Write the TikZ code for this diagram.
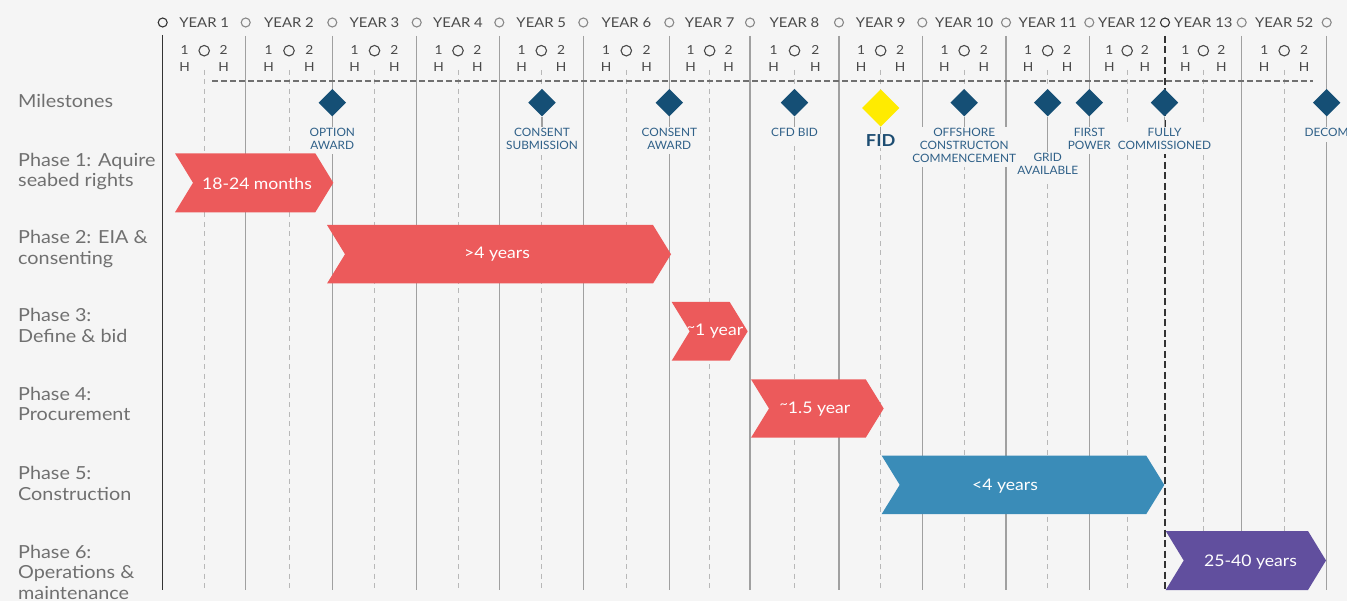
\documentclass[tikz,border=0pt]{standalone}
\usepackage{fontspec}
\setmainfont{Lato}[FakeStretch=1.1]
\newfontfamily\msfont{Lato}[FakeStretch=1.03]
\usetikzlibrary{shapes.geometric}
\definecolor{bg}{HTML}{F5F5F5}
\definecolor{chred}{HTML}{EC5A5B}
\definecolor{chblue}{HTML}{3A8CB8}
\definecolor{chpurple}{HTML}{614F9E}
\definecolor{navy}{HTML}{154F75}
\definecolor{mstext}{HTML}{2F6088}
\definecolor{fidtext}{HTML}{1D4D72}
\definecolor{fidyellow}{HTML}{FFEB00}
\definecolor{phasetext}{HTML}{707070}
\definecolor{yeartext}{HTML}{4A4A4A}
\definecolor{gridsolid}{HTML}{A0A0A0}
\definecolor{gridlight}{HTML}{B8B8B8}
\definecolor{hdash}{HTML}{707070}
\newcommand\chev[6]{% left, tip, top, bottom, colour, name
  \fill[#5] (#1,#3) -- (#2-18,#3) -- (#2,{(#3+#4)/2}) -- (#2-18,#4) -- (#1,#4) -- (#1+18,{(#3+#4)/2}) -- cycle;}
\newcommand\uptilde{\raisebox{0.3em}{\fontsize{13}{13}\selectfont\textasciitilde}}
\begin{document}
\begin{tikzpicture}[x=1pt,y=-1pt,
  yearlab/.style={font=\fontsize{13.5}{16}\selectfont, text=yeartext, anchor=base, inner sep=0pt},
  halfnum/.style={font=\fontsize{12.5}{14}\selectfont, text=yeartext, anchor=base, inner sep=0pt},
  ycirc/.style={circle, draw=#1, line width=1.1pt, minimum size=9pt, inner sep=0pt},
  hcirc/.style={circle, draw=yeartext, line width=1.1pt, minimum size=10.5pt, inner sep=0pt},
  halfline/.style={gridlight, line width=1pt, dash pattern=on 5pt off 4.5pt},
  yearline/.style={gridsolid, line width=1.1pt},
  axisline/.style={black!80, line width=1.3pt},
  keyline/.style={black!80, line width=1.2pt, dash pattern=on 7pt off 3.5pt},
  hline/.style={hdash, line width=1.3pt, dash pattern=on 6pt off 3pt},
  ms/.style={diamond, fill=navy, minimum width=27.6pt, minimum height=27.6pt, inner sep=0pt},
  fidms/.style={diamond, fill=fidyellow, minimum width=37.4pt, minimum height=37.4pt, inner sep=0pt},
  mslab/.style={font=\msfont\fontsize{11.5}{12.7}\selectfont, text=mstext, align=center, fill=bg, inner sep=1pt, anchor=north},
  msline/.style={gridsolid, line width=1.1pt},
  phaselab/.style={font=\fontsize{18}{20.5}\selectfont, text=phasetext, align=left, anchor=north west, inner sep=0pt},
  chlab/.style={font=\fontsize{16}{19}\selectfont, text=white, inner sep=0pt}]
\useasboundingbox (0,0) rectangle (1347,601);
\clip (0,0) rectangle (1347,601);
\fill[bg] (0,0) rectangle (1347,601);

% grid
\foreach \m in {204.2,289,374.5,458,541.3,626.3,709.65,794.5,880.65,964.15,1047.65,1127.15,1203.35,1284.2}
  \draw[halfline] (\m,70) -- (\m,590);
\foreach \b in {245.7,332.3,416.7,499.3,583.3,669.3,750,839,922.3,1006,1089.3,1241.7,1326.7}
  \draw[yearline] (\b,36) -- (\b,590);
\draw[axisline] (162.7,35) -- (162.7,590);
\draw[keyline] (1165,36) -- (1165,590);
\coordinate (hl) at (212,81);
\coordinate (hr) at (1313,81);
\draw[hline] (hl) -- (hr);

% header
\foreach \l/\r/\t [count=\i] in {162.7/245.7/YEAR 1,245.7/332.3/YEAR 2,332.3/416.7/YEAR 3,416.7/499.3/YEAR 4,499.3/583.3/YEAR 5,583.3/669.3/YEAR 6,669.3/750/YEAR 7,750/839/YEAR 8,839/922.3/YEAR 9,922.3/1006/YEAR 10,1006/1089.3/YEAR 11,1089.3/1165/YEAR 12,1165/1241.7/YEAR 13,1241.7/1326.7/YEAR 52} {
  \pgfmathsetmacro\m{(\l+\r)/2}
  \pgfmathsetmacro\o{0.235*(\r-\l)}
  \node[yearlab] (yl\i) at (\m,27.3) {\t};
  \node[halfnum] (one\i) at (\m-\o,55) {1};
  \node[halfnum] (two\i) at (\m+\o,55) {2};
  \node[halfnum] (ha\i) at (\m-\o,71.7) {H};
  \node[halfnum] (hb\i) at (\m+\o,71.7) {H};
  \node[hcirc] (hc\i) at (\m,50.7) {};
}
\foreach \b [count=\i] in {245.7,332.3,416.7,499.3,583.3,669.3,750,839,922.3,1006,1089.3,1241.7,1326.7}
  \node[ycirc=gridsolid!85!black] (yc\i) at (\b,22.5) {};
\node[ycirc=black!80] (yc0) at (162.7,22.5) {};
\node[ycirc=black!80] (ycx) at (1165,22.5) {};

% phase labels
\node[phaselab] (lm) at (18,92.6) {\strut Milestones};
\node[phaselab] (l1) at (18,151.6) {\strut Phase 1: Aquire\\\strut seabed rights};
\node[phaselab] (l2) at (18,229) {\strut Phase 2: EIA \&\\\strut consenting};
\node[phaselab] (l3) at (18,307.1) {\strut Phase 3:\\\strut Define \& bid};
\node[phaselab] (l4) at (18,385.6) {\strut Phase 4:\\\strut Procurement};
\node[phaselab] (l5) at (18,465.3) {\strut Phase 5:\\\strut Construction};
\node[phaselab] (l6) at (18,543.9) {\strut Phase 6:\\\strut Operations \&\\\strut maintenance};

% milestone labels
\node[mslab] (t7) at (1047.7,151.6) {\strut GRID\\\strut AVAILABLE};
\node[mslab] (t1) at (332.3,126.8) {\strut OPTION\\\strut AWARD};
\node[mslab] (t2) at (542,126.8) {\strut CONSENT\\\strut SUBMISSION};
\node[mslab] (t3) at (669.3,126.8) {\strut CONSENT\\\strut AWARD};
\node[mslab] (t4) at (794.5,126.8) {\strut CFD BID};
\node[mslab] (t6) at (964.2,126.8) {\strut OFFSHORE\\\strut CONSTRUCTON\\\strut COMMENCEMENT};
\node[mslab] (t8) at (1089.3,126.8) {\strut FIRST\\\strut POWER};
\node[mslab] (t9) at (1164.5,126.8) {\strut FULLY\\\strut COMMISSIONED};
\node[mslab, anchor=north west] (t10) at (1303.5,126.8) {\strut DECOM};
\node[font=\fontsize{16.5}{18}\selectfont\bfseries, text=fidtext, anchor=base, fill=bg, inner sep=1pt] (t5) at (880.7,146.7) {FID};

% milestones
\node[ms] (m1) at (332.3,102.7) {};
\node[ms] (m2) at (542,102.7) {};
\node[ms] (m3) at (669.3,102.7) {};
\node[ms] (m4) at (794.5,102.7) {};
\node[fidms] (m5) at (880.7,108) {};
\node[ms] (m6) at (964.2,102.7) {};
\node[ms] (m7) at (1047.7,102.7) {};
\node[ms] (m8) at (1089.3,102.7) {};
\node[ms] (m9) at (1164.5,102.7) {};
\node[ms] (m10) at (1326.7,102.7) {};
\foreach \k in {1,2,3,4,6,7,8,9}
  \draw[msline] (m\k.south) -- (t\k.north);
\draw[msline] (m5.south) -- (t5.north);

% chevrons
\chev{175}{333.3}{153.3}{212.3}{chred}{c1}
\chev{327}{671}{225}{283.5}{chred}{c2}
\chev{671.7}{747.7}{302}{360.7}{chred}{c3}
\chev{751}{883.7}{379.3}{437.7}{chred}{c4}
\chev{881.7}{1164.3}{455.7}{514}{chblue}{c5}
\chev{1165.7}{1326}{531}{590}{chpurple}{c6}
\node[chlab] (d1) at (257,184) {18-24 months};
\node[chlab] (d2) at (497,254.5) {>4 years};
\node[chlab] (d3) at (715,331.5) {\uptilde1 year};
\node[chlab] (d4) at (815,409) {\uptilde1.5 year};
\node[chlab] (d5) at (1005,486) {<4 years};
\node[chlab] (d6) at (1250.5,562) {25-40 years};
\end{tikzpicture}
\end{document}
